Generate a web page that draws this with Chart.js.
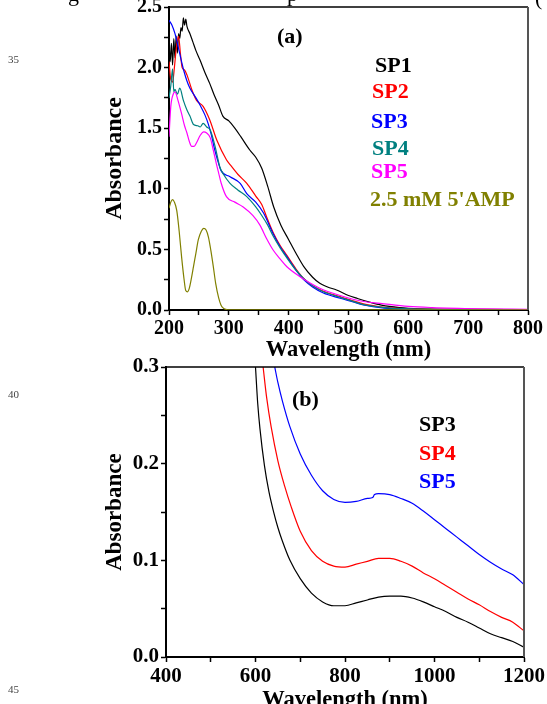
<!DOCTYPE html>
<html>
<head>
<meta charset="utf-8">
<script src="https://cdn.jsdelivr.net/npm/chart.js@4.4.1/dist/chart.umd.min.js"></script>
<style>
  html, body { margin: 0; padding: 0; background: #fff; }
  #page { position: relative; width: 547px; height: 704px; overflow: hidden; font-family: "Liberation Serif", "Times New Roman", serif; }
  #chartA { position: absolute; left: 0; top: -20px; }
  #chartB { position: absolute; left: 0; top: 340px; }
  .lbl { position: absolute; font-weight: bold; font-size: 22px; line-height: 22px; white-space: nowrap; }
  .num { position: absolute; font-size: 11px; line-height: 11px; color: #444; }
  .cut { position: absolute; font-size: 22px; line-height: 22px; color: #000; }
</style>
</head>
<body>
<div id="page">
  <canvas id="chartA" width="547" height="400"></canvas>
  <canvas id="chartB" width="547" height="384"></canvas>

  <div class="cut" style="left:68px; top:-17px;">g</div>
  <div class="cut" style="left:287px; top:-17px;">p</div>
  <div class="cut" style="left:535px; top:-13px;">(</div>

  <div class="num" style="left:8px; top:54px;">35</div>
  <div class="num" style="left:8px; top:389px;">40</div>
  <div class="num" style="left:8px; top:684px;">45</div>

  <div class="lbl" style="left:277px; top:25px;">(a)</div>
  <div class="lbl" style="left:375px; top:54px; color:#000;">SP1</div>
  <div class="lbl" style="left:372px; top:80px; color:#ff0000;">SP2</div>
  <div class="lbl" style="left:371px; top:110px; color:#0000ff;">SP3</div>
  <div class="lbl" style="left:372px; top:137px; color:#008080;">SP4</div>
  <div class="lbl" style="left:371px; top:160px; color:#ff00ff;">SP5</div>
  <div class="lbl" style="left:370px; top:188px; color:#808000;">2.5 mM 5'AMP</div>

  <div class="lbl" style="left:292px; top:388px;">(b)</div>
  <div class="lbl" style="left:419px; top:413px; color:#000;">SP3</div>
  <div class="lbl" style="left:419px; top:442px; color:#ff0000;">SP4</div>
  <div class="lbl" style="left:419px; top:470px; color:#0000ff;">SP5</div>
</div>
<script>
// (a) UV-vis spectra, 200-800 nm
const sp1Wl = [200,202,204,206,208,210,212,214,216,218,220,222,224,226,228,230,235,240,245,252,260,268,275,283,290,300,310,320,335,345,355,365,375,387,400,412,425,440,452,465,480,500,515,535,555,585,620,700,800];
const sp1Abs = [2.22,2.05,2.20,2.02,2.24,2.08,2.26,2.12,2.28,2.24,2.33,2.30,2.41,2.35,2.40,2.34,2.28,2.21,2.14,2.06,1.96,1.87,1.78,1.69,1.60,1.56,1.50,1.43,1.32,1.26,1.17,1.02,0.85,0.70,0.58,0.47,0.36,0.27,0.22,0.19,0.165,0.12,0.095,0.065,0.040,0.020,0.010,0.005,0.003];

const sp2Wl = [200,203,206,209,212,216,219,222,226,230,238,246,257,268,280,296,302,315,330,345,355,363,374,386,397,412,425,440,458,486,505,525,560,600,700,800];
const sp2Abs = [2.05,1.90,1.88,2.00,2.15,2.26,2.12,2.00,1.98,1.94,1.82,1.73,1.68,1.57,1.40,1.24,1.20,1.12,1.045,0.94,0.87,0.77,0.64,0.53,0.45,0.34,0.26,0.20,0.155,0.11,0.08,0.05,0.022,0.010,0.005,0.003];

const sp3Wl = [200,205,210,215,220,225,230,235,245,252,260,266,271,276,281,287,302,319,330,345,358,374,386,397,412,425,440,458,486,505,525,560,600,700,800];
const sp3Abs = [2.39,2.35,2.28,2.18,2.07,1.97,1.89,1.83,1.75,1.69,1.61,1.53,1.44,1.33,1.24,1.15,1.10,1.045,0.96,0.89,0.80,0.63,0.52,0.44,0.33,0.25,0.19,0.14,0.097,0.07,0.041,0.015,0.006,0.003,0.002];

const sp4Wl = [200,203,206,208,210,214,218,224,230,235,241,248,252,257,263,269,277,285,291,302,315,330,345,355,365,374,386,397,412,425,440,458,486,505,525,560,600,700,800];
const sp4Abs = [1.75,1.85,1.99,1.80,1.82,1.78,1.83,1.73,1.65,1.60,1.53,1.52,1.51,1.54,1.51,1.485,1.35,1.18,1.12,1.045,0.99,0.935,0.85,0.78,0.70,0.61,0.51,0.43,0.33,0.26,0.20,0.15,0.105,0.075,0.045,0.02,0.009,0.004,0.003];

const sp5Wl = [200,203,207,210,215,221,226,230,234,238,242,246,252,258,263,269,274,279,283,287,296,310,324,340,352,363,374,386,397,419,435,452,486,525,553,600,640,720,800];
const sp5Abs = [1.43,1.68,1.78,1.80,1.73,1.62,1.52,1.46,1.39,1.35,1.35,1.38,1.44,1.47,1.46,1.42,1.32,1.21,1.13,1.05,0.935,0.89,0.85,0.78,0.70,0.59,0.495,0.42,0.357,0.275,0.225,0.18,0.12,0.07,0.055,0.03,0.02,0.01,0.005];

const ampWl = [200,203,206,209,213,217,221,225,228,231,234,237,241,245,249,254,258,262,266,270,274,278,283,287,291,296,300,400,500,600,700,800];
const ampAbs = [0.84,0.89,0.91,0.89,0.82,0.65,0.44,0.26,0.16,0.15,0.18,0.25,0.36,0.47,0.58,0.65,0.674,0.66,0.60,0.49,0.36,0.22,0.10,0.04,0.015,0.004,0.002,0.001,0.001,0.001,0.001,0.001];

// (b) near-IR region, 400-1200 nm
const b3Wl = [600,605,610,620,630,640,650,660,677,700,725,750,775,800,825,850,875,900,925,950,975,1000,1025,1050,1075,1100,1125,1150,1175,1200];
const b3Abs = [0.300,0.262,0.236,0.198,0.171,0.151,0.134,0.120,0.100,0.081,0.066,0.057,0.053,0.053,0.056,0.059,0.062,0.063,0.063,0.061,0.057,0.052,0.047,0.041,0.036,0.030,0.024,0.020,0.016,0.010];

const b4Wl = [617,625,635,650,665,680,700,725,750,775,800,825,850,875,900,925,950,975,1000,1025,1050,1075,1100,1125,1150,1175,1200];
const b4Abs = [0.300,0.268,0.238,0.203,0.177,0.155,0.130,0.110,0.099,0.094,0.093,0.096,0.099,0.102,0.102,0.099,0.094,0.087,0.081,0.074,0.067,0.060,0.054,0.047,0.041,0.036,0.027];

const b5Wl = [643,650,660,677,700,725,750,775,800,825,850,862,866,875,900,925,950,975,1000,1025,1050,1075,1100,1125,1150,1175,1200];
const b5Abs = [0.300,0.284,0.265,0.238,0.210,0.188,0.172,0.163,0.160,0.161,0.164,0.165,0.168,0.169,0.168,0.164,0.159,0.151,0.142,0.133,0.124,0.115,0.106,0.098,0.091,0.085,0.075];

const xTitle = "Wavelength (nm)";
const yTitle = "Absorbance";

function pts(xs, ys) {
  return xs.map((x, i) => ({ x: x, y: ys[i] }));
}

function series(label, xs, ys, color) {
  return {
    label: label,
    data: pts(xs, ys),
    borderColor: color,
    borderWidth: 1.2,
    pointRadius: 0,
    fill: false,
    cubicInterpolationMode: "monotone",
  };
}

function bold(size) {
  return { family: "Liberation Serif", weight: "bold", size: size };
}

// top and right edges of the plot box
const frame = {
  id: "frame",
  afterDraw(chart) {
    const { ctx, chartArea: a } = chart;
    ctx.save();
    ctx.strokeStyle = "#000";
    ctx.lineWidth = 1.5;
    ctx.beginPath();
    ctx.moveTo(a.left, a.top);
    ctx.lineTo(a.right, a.top);
    ctx.stroke();
    ctx.strokeStyle = "#555";
    ctx.lineWidth = 2;
    ctx.beginPath();
    ctx.moveTo(a.right, a.top);
    ctx.lineTo(a.right, a.bottom);
    ctx.stroke();
    ctx.restore();
  },
};

function scales(opt) {
  return {
    x: {
      type: "linear",
      min: opt.xMin,
      max: opt.xMax,
      ticks: {
        stepSize: opt.xStep,
        autoSkip: false,
        maxRotation: 0,
        padding: 2,
        color: "#000",
        font: bold(opt.tickSize),
        callback: (v) => (v % opt.xMajor === 0 ? v : ""),
      },
      grid: { drawOnChartArea: false, tickLength: 5, tickColor: "#000", tickWidth: 1.5 },
      border: { color: "#000", width: 2 },
      title: {
        display: true,
        text: xTitle,
        color: "#000",
        font: bold(22.5),
        padding: { top: 0, bottom: opt.xTitlePad },
      },
      afterFit: (s) => { s.height = opt.xHeight; },
    },
    y: {
      min: 0,
      max: opt.yMax,
      ticks: {
        stepSize: opt.yStep,
        autoSkip: false,
        padding: 2,
        color: "#000",
        font: bold(opt.tickSize),
        callback: (v) => (Math.round(v * 100) % opt.yMajor === 0 ? v.toFixed(1) : ""),
      },
      grid: { drawOnChartArea: false, tickLength: 5, tickColor: "#000", tickWidth: 1.5 },
      border: { color: "#000", width: 2 },
      title: {
        display: true,
        text: yTitle,
        color: "#000",
        font: bold(opt.yTitleSize),
        padding: { top: 115 - opt.yTitleSize * 0.6, bottom: 0 },
      },
      afterFit: (s) => { s.width = opt.yWidth; },
    },
  };
}

new Chart(document.getElementById("chartA"), {
  type: "line",
  data: {
    datasets: [
      series("2.5 mM 5'AMP", ampWl, ampAbs, "#808000"),
      series("SP5", sp5Wl, sp5Abs, "#ff00ff"),
      series("SP4", sp4Wl, sp4Abs, "#008080"),
      series("SP3", sp3Wl, sp3Abs, "#0000ff"),
      series("SP2", sp2Wl, sp2Abs, "#ff0000"),
      series("SP1", sp1Wl, sp1Abs, "#000000"),
    ],
  },
  options: {
    responsive: false,
    animation: false,
    layout: { padding: { top: 27, right: 19, left: 0, bottom: 0 } },
    plugins: { legend: { display: false }, tooltip: { enabled: false } },
    scales: scales({
      xMin: 200, xMax: 800, xStep: 50, xMajor: 100,
      yMax: 2.5, yStep: 0.25, yMajor: 50,
      tickSize: 20, xHeight: 70, xTitlePad: 16, yWidth: 169, yTitleSize: 24,
    }),
  },
  plugins: [frame],
});

new Chart(document.getElementById("chartB"), {
  type: "line",
  data: {
    datasets: [
      series("SP3", b3Wl, b3Abs, "#000000"),
      series("SP4", b4Wl, b4Abs, "#ff0000"),
      series("SP5", b5Wl, b5Abs, "#0000ff"),
    ],
  },
  options: {
    responsive: false,
    animation: false,
    layout: { padding: { top: 27, right: 23, left: 0, bottom: 0 } },
    plugins: { legend: { display: false }, tooltip: { enabled: false } },
    scales: scales({
      xMin: 400, xMax: 1200, xStep: 100, xMajor: 200,
      yMax: 0.3, yStep: 0.05, yMajor: 10,
      tickSize: 21, xHeight: 67, xTitlePad: 10, yWidth: 166, yTitleSize: 23,
    }),
  },
  plugins: [frame],
});
</script>
</body>
</html>
